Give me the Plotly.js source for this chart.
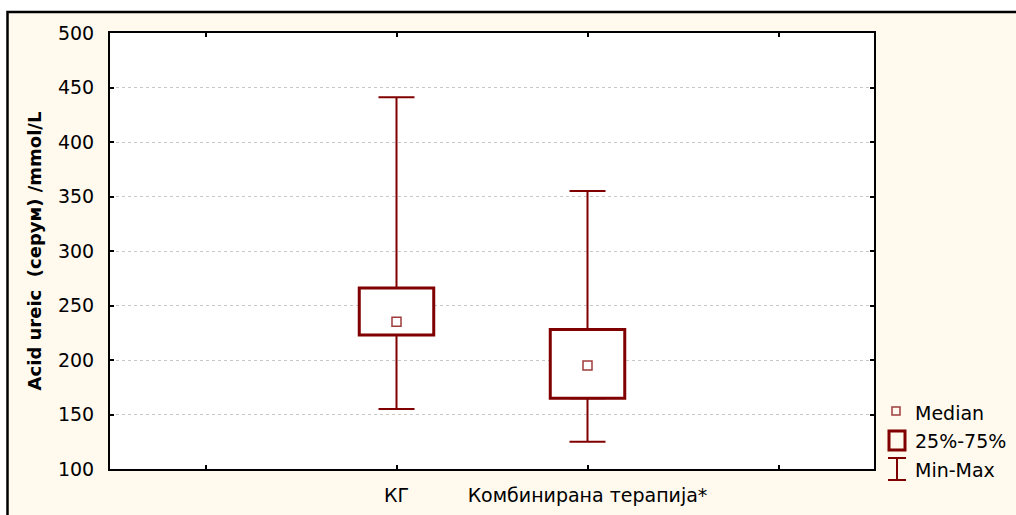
<!DOCTYPE html>
<html>
<head>
<meta charset="utf-8">
<script src="https://cdn.plot.ly/plotly-3.0.1.min.js"></script>
<style>html,body{margin:0;padding:0;background:#fff;}#chart{width:1016px;height:515px;}</style>
</head>
<body>
<div id="chart"></div>
<script>
// ---- data ----
const categories = ['КГ', 'Комбинирана терапија*'];
const positions = [2, 3];
const minVals = [155, 125];
const q1Vals = [223, 165];
const medianVals = [235, 195];
const q3Vals = [266, 228];
const maxVals = [441, 355];
const yTickVals = [100, 150, 200, 250, 300, 350, 400, 450, 500];
const legendLabels = ['Median', '25%-75%', 'Min-Max'];

const RED = '#800000';
const MED = '#A03C3C';
const FONT = 'DejaVu Sans, Arial, sans-serif';
const FS = 19;

// plot-area geometry (pixels)
const L = 110, R = 874, T = 33, B = 469, W = 1016, H = 515;
const px = x => (x - L) / (R - L);
const py = y => (B - y) / (B - T);

const traces = [
  {
    type: 'bar', x: positions, base: q1Vals,
    y: q3Vals.map((v, i) => v - q1Vals[i]),
    width: 0.39,
    marker: {color: '#ffffff', line: {color: RED, width: 3}},
    showlegend: false, hoverinfo: 'skip'
  },
  {
    type: 'scatter', mode: 'markers', x: positions, y: q3Vals,
    marker: {color: 'rgba(0,0,0,0)', size: 1},
    error_y: {type: 'data', symmetric: false,
      array: maxVals.map((v, i) => v - q3Vals[i]),
      arrayminus: q3Vals.map(() => 0),
      color: RED, thickness: 2, width: 18},
    showlegend: false, hoverinfo: 'skip'
  },
  {
    type: 'scatter', mode: 'markers', x: positions, y: q1Vals,
    marker: {color: 'rgba(0,0,0,0)', size: 1},
    error_y: {type: 'data', symmetric: false,
      array: q1Vals.map(() => 0),
      arrayminus: q1Vals.map((v, i) => v - minVals[i]),
      color: RED, thickness: 2, width: 18},
    showlegend: false, hoverinfo: 'skip'
  },
  {
    type: 'scatter', mode: 'markers', x: positions, y: medianVals,
    marker: {symbol: 'square-open', size: 9, color: MED, line: {width: 1.5, color: MED}},
    showlegend: false, hoverinfo: 'skip'
  }
];

const shapes = [
  // white margins outside the frame
  {type: 'rect', xref: 'paper', yref: 'paper', x0: px(-20), x1: px(W + 20), y0: py(11), y1: py(-20),
   fillcolor: '#ffffff', line: {width: 0}, layer: 'below'},
  {type: 'rect', xref: 'paper', yref: 'paper', x0: px(-20), x1: px(6), y0: py(-20), y1: py(H + 20),
   fillcolor: '#ffffff', line: {width: 0}, layer: 'below'},
  // frame
  {type: 'rect', xref: 'paper', yref: 'paper', x0: px(7.5), x1: px(W + 20), y0: py(12), y1: py(H + 20),
   line: {color: '#000', width: 2.5}, layer: 'below'},
  // legend icons
  {type: 'rect', xref: 'paper', yref: 'paper', x0: px(892), x1: px(900), y0: py(407), y1: py(415),
   line: {color: MED, width: 1.5}},
  {type: 'rect', xref: 'paper', yref: 'paper', x0: px(889), x1: px(905), y0: py(431), y1: py(450),
   line: {color: RED, width: 3}},
  {type: 'line', xref: 'paper', yref: 'paper', x0: px(888), x1: px(906), y0: py(458), y1: py(458),
   line: {color: RED, width: 2}},
  {type: 'line', xref: 'paper', yref: 'paper', x0: px(888), x1: px(906), y0: py(480), y1: py(480),
   line: {color: RED, width: 2}},
  {type: 'line', xref: 'paper', yref: 'paper', x0: px(897), x1: px(897), y0: py(458), y1: py(480),
   line: {color: RED, width: 2}}
];

const legendY = [413, 441, 470];
const annotations = legendLabels.map((t, i) => ({
  xref: 'paper', yref: 'paper', x: px(913), y: py(legendY[i]),
  xanchor: 'left', yanchor: 'middle', showarrow: false, text: t,
  font: {family: FONT, size: FS, color: '#000'}
}));

const layout = {
  width: W, height: H,
  margin: {l: L, r: W - R, t: T, b: H - B, pad: 0},
  paper_bgcolor: '#FFF9EE',
  plot_bgcolor: '#ffffff',
  showlegend: false,
  font: {family: FONT, size: FS, color: '#000'},
  xaxis: {
    range: [0.5, 4.5], tickmode: 'array', tickvals: [1, 2, 3, 4],
    ticktext: ['', categories[0], categories[1], ''],
    ticks: 'inside', ticklen: 4, tickwidth: 2, tickcolor: '#000',
    showline: true, linecolor: '#000', linewidth: 2, mirror: 'ticks',
    showgrid: false, zeroline: false,
    tickfont: {family: FONT, size: FS, color: '#000'},
    ticklabelstandoff: 8
  },
  yaxis: {
    range: [100, 500], tickmode: 'array', tickvals: yTickVals,
    ticks: 'inside', ticklen: 4, tickwidth: 2, tickcolor: '#000',
    showline: true, linecolor: '#000', linewidth: 2, mirror: 'ticks',
    showgrid: true, gridcolor: '#c8c8c8', gridwidth: 1, griddash: 'dot',
    zeroline: false,
    tickfont: {family: FONT, size: FS, color: '#000'},
    ticklabelstandoff: 10,
    title: {text: '<b>Acid ureic \u00a0(серум) /mmol/L</b>', font: {family: FONT, size: 18, color: '#000'}, standoff: 12}
  },
  shapes: shapes,
  annotations: annotations
};

Plotly.newPlot('chart', traces, layout, {displayModeBar: false, staticPlot: true});
</script>
</body>
</html>
